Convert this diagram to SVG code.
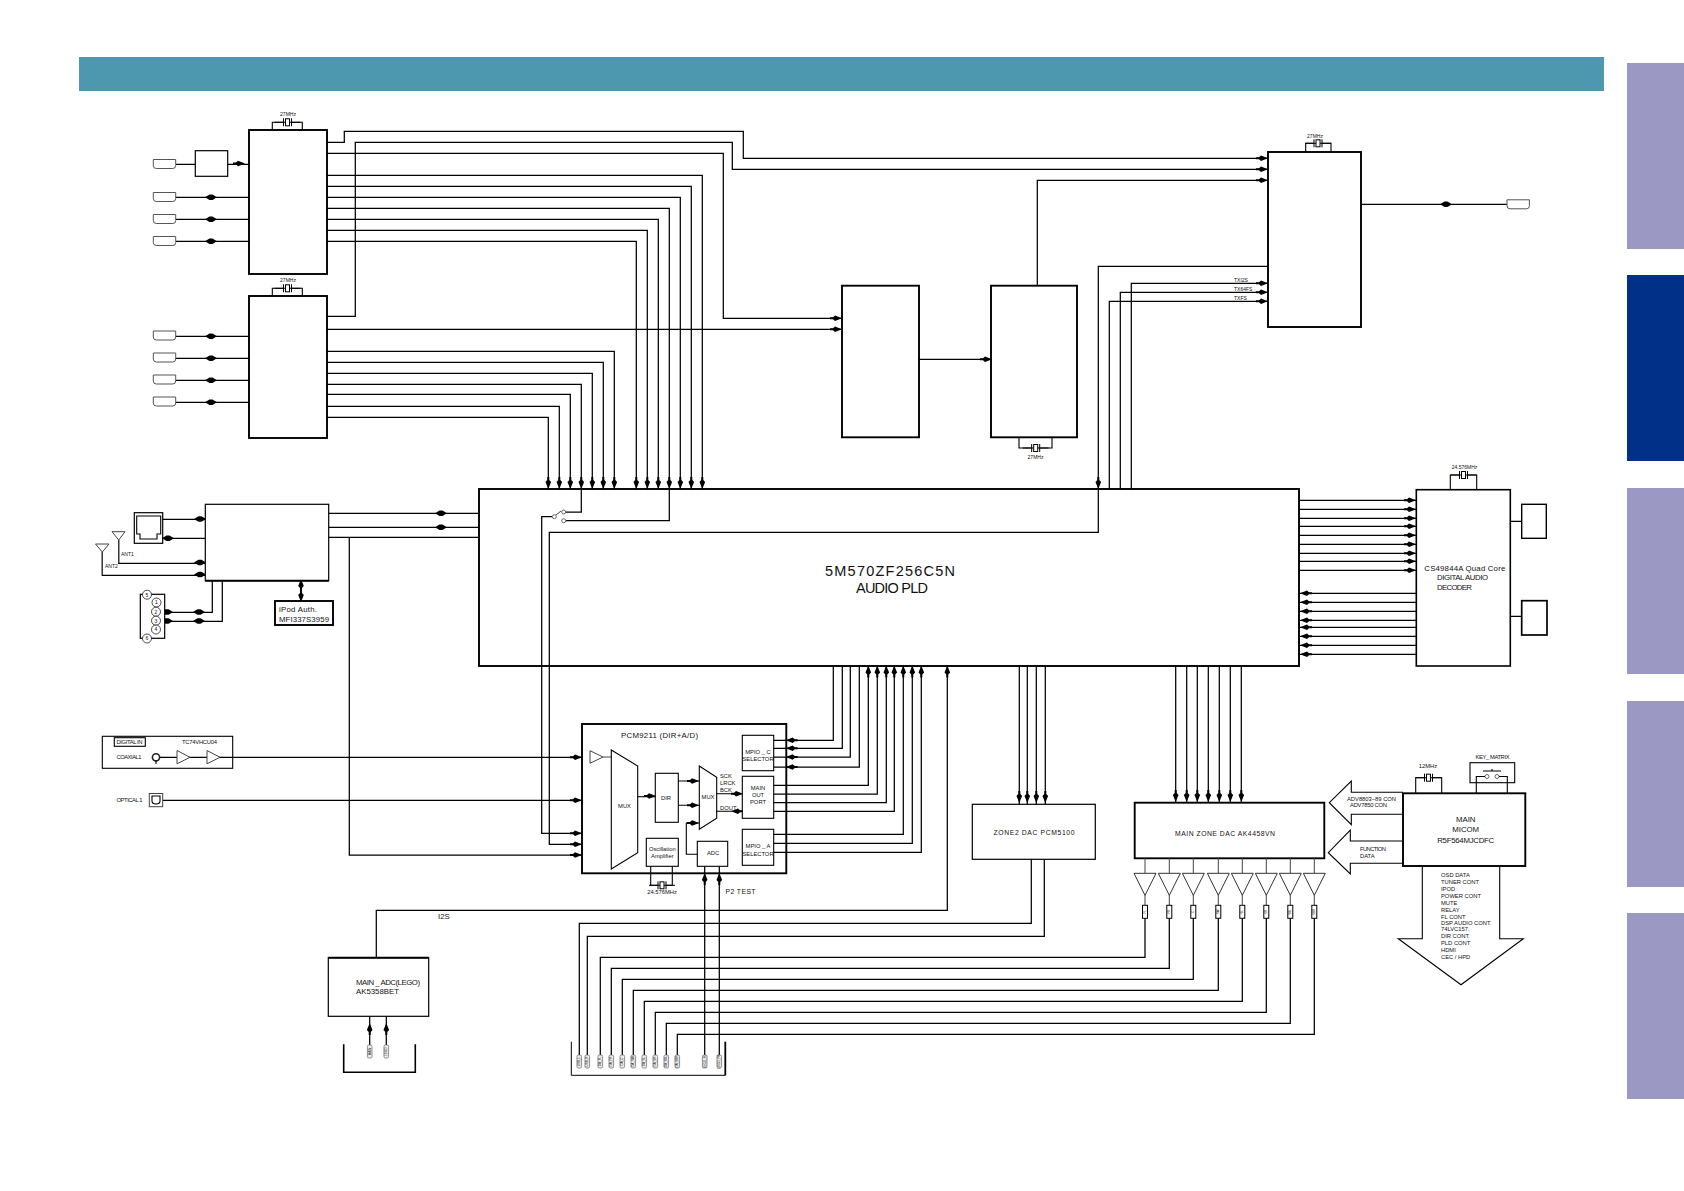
<svg xmlns="http://www.w3.org/2000/svg" width="1684" height="1191" viewBox="0 0 1684 1191">
<style>
text{font-family:"Liberation Sans",Arial,sans-serif;fill:#111}
.n{fill:#fff;stroke:#000;stroke-width:1.2}
.k{fill:#fff;stroke:#000;stroke-width:1.9}
.h{fill:none;stroke:#000;stroke-width:1.9}
.o{fill:none;stroke:#000;stroke-width:1.1}
.g{fill:none;stroke:#444;stroke-width:1}
.c path{fill:none;stroke:#000;stroke-width:1.25}
.s3{font-size:3px}.s4{font-size:5px}.s5{font-size:5.8px}.s6{font-size:6.8px}.s7{font-size:7.8px}.s14{font-size:14.5px}
</style>
<defs>
<polygon id="dm" points="-6,0 -1.5,-2.8 1.5,-2.8 6,0 1.5,2.8 -1.5,2.8" fill="#000"/>
<polygon id="ar" points="6,0 -1,-2.8 -3,-1 -6,-1 -6,1 -3,1 -1,2.8" fill="#000"/>
<polygon id="al" points="-6,0 1,-2.8 3,-1 6,-1 6,1 3,1 1,2.8" fill="#000"/>
<polygon id="ad" points="0,6 -2.8,-1 -1,-3 -1,-6 1,-6 1,-3 2.8,-1" fill="#000"/>
<polygon id="au" points="0,-6 -2.8,1 -1,3 -1,6 1,6 1,3 2.8,1" fill="#000"/>
<path id="conn" d="M0,0H22.4V6Q22.4,9 19.5,9H3Q0,9 0,6Z" fill="#fff" stroke="#555" stroke-width="1"/>
<g id="xtal"><path d="M-13,0H-4M-4,-4V4M4,-4V4M4,0H13" fill="none" stroke="#000"/><rect x="-2" y="-3.5" width="4" height="7" fill="#fff" stroke="#000"/></g>
<polygon id="amp" points="-11,0 11,0 0,22" fill="#fff" stroke="#333" stroke-width="1"/>
<rect id="res" x="-2.5" y="0" width="5" height="13" fill="#fff" stroke="#000" stroke-width="1"/>
<rect id="tag" x="-2.3" y="0" width="4.6" height="13" rx="1.4" fill="#eee" stroke="#666" stroke-width=".7"/>
</defs>
<rect width="1684" height="1191" fill="#fff"/>
<g id="header"><rect x="79" y="57" width="1525" height="34" fill="#4d98ae"/></g>
<g id="tabs">
<rect x="1627" y="63" width="57" height="186" fill="#9b98c4"/>
<rect x="1627" y="275" width="57" height="186" fill="#003087"/>
<rect x="1627" y="488" width="57" height="186" fill="#9b98c4"/>
<rect x="1627" y="701" width="57" height="186" fill="#9b98c4"/>
<rect x="1627" y="913" width="57" height="186" fill="#9b98c4"/>
</g>
<g id="connectors" class="c">
<path d="M327,142.3H344.3V131.3H743.3V158.3H1268"/>
<path d="M327,316.3H355.3V142.3H732.3V169.3H1268"/>
<path d="M327,153.3H723.3V318.3H842"/>
<path d="M327,329.3H842"/>
<path d="M327,175.3H702.3V489M327,186.3H691.3V489M327,197.3H680.3V489M327,208.3H669.3V489M327,219.3H658.3V489M327,230.3H647.3V489M327,241.3H636.3V489"/>
<path d="M327,351.3H614.3V489M327,362.3H603.3V489M327,373.3H592.3V489M327,384.3H581.3V489M327,394.3H570.3V489M327,406.3H559.3V489M327,417.3H548.3V489"/>
<path d="M581.3,489V512H566M669.3,489V520.7H566M552,516.7H541.7V833.3H582M1268,266.3H1098.3V532.3H549.3V844.3H582"/>
<path d="M1268,283.3H1131.3V489M1268,292.3H1120.3V489M1268,301.3H1109.3V489"/>
<path d="M919,359.3H991M1037.3,285.7V180.3H1268M1361,204.3H1507"/>
<path d="M175.7,164.3H195.3M227.7,164.3H249M175.7,197.3H249M175.7,219.3H249M175.7,241.3H249M175.7,336.3H249M175.7,358.3H249M175.7,380.3H249M175.7,402.3H249"/>
<path d="M328.7,513.3H479M328.7,527.3H479M328.7,537.3H479M349.3,537.3V855H582"/>
<path d="M162.7,519.3H205M162.7,538.3H205M118.7,540V563.3H205M102.3,552V575.3H205M160,612.3H212.3V580.7M160,621.3H222.3V580.7M301,580.7V600.7"/>
<path d="M156,757.3H582M162.7,800.3H582"/>
<path d="M833.3,665.7V740.3H773.7M842.3,665.7V748.3H773.7M850.3,665.7V757H773.7M859.3,665.7V767H773.7"/>
<path d="M868.3,665.7V785.3H773.7M877.3,665.7V794H773.7M886.3,665.7V802.7H773.7M894.3,665.7V811.3H773.7M903.3,665.7V834.3H773.7M912.3,665.7V843.3H773.7M921.3,665.7V852.3H773.7"/>
<path d="M947.3,665.7V910.3H376.3V957.7"/>
<path d="M1019.3,665.7V804M1027.3,665.7V804M1036.3,665.7V804M1045.3,665.7V804"/>
<path d="M1175.7,665.7V802M1186.7,665.7V802M1197.3,665.7V802M1208.3,665.7V802M1219.3,665.7V802M1230.3,665.7V802M1241.3,665.7V802"/>
<path d="M1031.3,859.3V923.3H579.3V1055M1044.3,859.3V936.3H587.3V1055"/>
<path d="M1145,918V957.3H600.3V1055M1169.3,918V968.3H611.3V1055M1193.3,918V979.3H622.3V1055M1218.3,918V990.3H633.3V1055M1242.3,918V1001.3H644.3V1055M1266.3,918V1012.3H655.3V1055M1290.3,918V1023.3H666.3V1055M1314.3,918V1034.3H677.3V1055"/>
<path d="M704.7,1055V866.3M719.3,1055V866.3M369.7,1016.3V1046M386.3,1016.3V1046"/>
<path d="M1299,500.3H1416M1299,509.3H1416M1299,518.3H1416M1299,526.3H1416M1299,535.3H1416M1299,544.3H1416M1299,553.3H1416M1299,561.3H1416M1299,570.3H1416"/>
<path d="M1299,593.3H1416M1299,602.3H1416M1299,611.3H1416M1299,620.3H1416M1299,627.3H1416M1299,636.3H1416M1299,645.3H1416M1299,654.3H1416"/>
<path d="M1510,521.3H1521.7M1510,616.3H1521.7"/>
<g id="arrowheads">
<use href="#ad" x="548.3" y="483"/><use href="#ad" x="559.3" y="483"/><use href="#ad" x="570.3" y="483"/><use href="#ad" x="581.3" y="483"/><use href="#ad" x="592.3" y="483"/><use href="#ad" x="603.3" y="483"/><use href="#ad" x="614.3" y="483"/>
<use href="#ad" x="636.3" y="483"/><use href="#ad" x="647.3" y="483"/><use href="#ad" x="658.3" y="483"/><use href="#ad" x="669.3" y="483"/><use href="#ad" x="680.3" y="483"/><use href="#ad" x="691.3" y="483"/><use href="#ad" x="702.3" y="483"/><use href="#ad" x="1098.3" y="483"/>
<use href="#ar" x="836" y="318.3"/><use href="#ar" x="836" y="329.3"/><use href="#ar" x="986" y="359.3"/>
<use href="#ar" x="1262" y="158.3"/><use href="#ar" x="1262" y="169.3"/><use href="#ar" x="1262" y="180.3"/><use href="#ar" x="1262" y="283.3"/><use href="#ar" x="1262" y="292.3"/><use href="#ar" x="1262" y="301.3"/>
<use href="#dm" x="1446" y="204.3"/><use href="#ar" x="239" y="163.5"/>
<use href="#dm" x="211" y="197.3"/><use href="#dm" x="211" y="219.3"/><use href="#dm" x="211" y="241.3"/><use href="#dm" x="211" y="336.3"/><use href="#dm" x="211" y="358.3"/><use href="#dm" x="211" y="380.3"/><use href="#dm" x="211" y="402.3"/>
<use href="#dm" x="441" y="513.3"/><use href="#dm" x="441" y="527.3"/>
<use href="#dm" x="200" y="519"/><use href="#dm" x="168" y="538.3"/><use href="#dm" x="200" y="562.5"/><use href="#dm" x="200" y="574.5"/>
<use href="#dm" x="167" y="612"/><use href="#dm" x="167" y="621"/><use href="#dm" x="199" y="612"/><use href="#dm" x="199" y="621"/>
<use href="#ad" x="301" y="596"/><use href="#au" x="301" y="585"/>
<use href="#ar" x="576" y="757.3"/><use href="#ar" x="576" y="800.3"/><use href="#ar" x="576" y="833.3"/><use href="#ar" x="576" y="844.3"/><use href="#ar" x="576" y="855"/>
<use href="#al" x="791.7" y="740.3"/><use href="#al" x="791.7" y="748.3"/><use href="#al" x="791.7" y="757"/><use href="#al" x="791.7" y="767"/>
<use href="#au" x="868.3" y="671.5"/><use href="#au" x="877.3" y="671.5"/><use href="#au" x="886.3" y="671.5"/><use href="#au" x="894.3" y="671.5"/><use href="#au" x="903.3" y="671.5"/><use href="#au" x="912.3" y="671.5"/><use href="#au" x="921.3" y="671.5"/><use href="#au" x="947.3" y="671.5"/>
<use href="#ad" x="1019.3" y="797"/><use href="#ad" x="1027.3" y="797"/><use href="#ad" x="1036.3" y="797"/><use href="#ad" x="1045.3" y="797"/>
<use href="#ad" x="1175.7" y="796"/><use href="#ad" x="1186.7" y="796"/><use href="#ad" x="1197.3" y="796"/><use href="#ad" x="1208.3" y="796"/><use href="#ad" x="1219.3" y="796"/><use href="#ad" x="1230.3" y="796"/><use href="#ad" x="1241.3" y="796"/>
<use href="#au" x="704.7" y="879"/><use href="#au" x="719.3" y="879"/><use href="#au" x="369.7" y="1029"/><use href="#au" x="386.3" y="1029"/>
<use href="#ar" x="1410" y="500.3"/><use href="#ar" x="1410" y="509.3"/><use href="#ar" x="1410" y="518.3"/><use href="#ar" x="1410" y="526.3"/><use href="#ar" x="1410" y="535.3"/><use href="#ar" x="1410" y="544.3"/><use href="#ar" x="1410" y="553.3"/><use href="#ar" x="1410" y="561.3"/><use href="#ar" x="1410" y="570.3"/>
<use href="#al" x="1306" y="593.3"/><use href="#al" x="1306" y="602.3"/><use href="#al" x="1306" y="611.3"/><use href="#al" x="1306" y="620.3"/><use href="#al" x="1306" y="627.3"/><use href="#al" x="1306" y="636.3"/><use href="#al" x="1306" y="645.3"/><use href="#al" x="1306" y="654.3"/>
</g>
</g>
<g id="hdmi-connectors">
<use href="#conn" x="153.3" y="159.5"/><use href="#conn" x="153.3" y="192.5"/><use href="#conn" x="153.3" y="214.5"/><use href="#conn" x="153.3" y="236.5"/>
<use href="#conn" x="153.3" y="331"/><use href="#conn" x="153.3" y="353"/><use href="#conn" x="153.3" y="375"/><use href="#conn" x="153.3" y="397"/>
<use href="#conn" x="1507" y="199.8"/>
</g>
<g id="hdmi-rx1">
<rect class="k" x="249" y="130" width="78" height="144"/>
<path class="o" d="M272.3,130V122.3H302.3V130"/><use href="#xtal" x="287.5" y="122.3"/>
<text class="s4" x="288" y="116" text-anchor="middle">27MHz</text>
</g>
<g id="hdmi-small"><rect class="n" x="195.3" y="150.7" width="32.4" height="25.6"/></g>
<g id="hdmi-rx2">
<rect class="k" x="249" y="296" width="78" height="142"/>
<path class="o" d="M272.3,296V288.3H302.3V296"/><use href="#xtal" x="287.5" y="288.3"/>
<text class="s4" x="288" y="282" text-anchor="middle">27MHz</text>
</g>
<g id="box-sw"><rect class="k" x="842" y="285.7" width="77" height="151.6"/></g>
<g id="box-tx">
<rect class="k" x="991" y="285.7" width="86" height="151.6"/>
<path class="o" d="M1019,437.3V448H1052V437.3"/><use href="#xtal" x="1035.7" y="448"/>
<text class="s4" x="1035.5" y="459" text-anchor="middle">27MHz</text>
</g>
<g id="box-out">
<rect class="k" x="1268" y="152" width="93" height="175"/>
<path class="o" d="M1305.7,152V143.3H1331V152"/><use href="#xtal" x="1318" y="143.3"/>
<text class="s4" x="1315" y="137.5" text-anchor="middle">27MHz</text>
<text class="s4" x="1234" y="282">TXI2S</text>
<text class="s4" x="1234" y="290.5">TX64FS</text>
<text class="s4" x="1234" y="299.5">TXFS</text>
</g>
<g id="pld">
<rect class="h" x="479" y="489" width="820" height="177"/>
<circle cx="554.3" cy="516.7" r="2" fill="#fff" stroke="#444" stroke-width=".8"/>
<circle cx="563.7" cy="512" r="2" fill="#fff" stroke="#444" stroke-width=".8"/>
<circle cx="563.7" cy="520.7" r="2" fill="#fff" stroke="#444" stroke-width=".8"/>
<path class="g" d="M556,515L561,511"/>
<text class="s14" x="825" y="576" textLength="130" lengthAdjust="spacing">5M570ZF256C5N</text>
<text class="s14" x="856" y="593" textLength="72" lengthAdjust="spacing">AUDIO PLD</text>
</g>
<g id="ipod-if">
<rect class="n" x="205.3" y="504.3" width="123.4" height="76.4"/>
<path d="M205.3,580.7H328.7" stroke="#000" stroke-width="2"/>
</g>
<g id="ethernet-jack">
<rect class="n" x="134.3" y="512.7" width="28.4" height="30.6"/>
<path class="o" d="M136.7,516H160.7V534H157V539H140V534H136.7Z"/>
</g>
<g id="antennas">
<path class="g" d="M112,531.7H125L118.7,540ZM118.7,540V563M95.5,544H109L102.3,552ZM102.3,552V575"/>
<text class="s4" x="121" y="555.5">ANT1</text>
<text class="s4" x="105" y="567.5">ANT2</text>
</g>
<g id="usb-connector">
<rect class="n" x="140.3" y="594.3" width="24.4" height="44"/>
<circle cx="147" cy="594.7" r="4.5" fill="#fff" stroke="#000" stroke-width=".7"/><circle cx="156.5" cy="602.5" r="4.5" fill="#fff" stroke="#000" stroke-width=".7"/><circle cx="156" cy="611.7" r="4.5" fill="#fff" stroke="#000" stroke-width=".7"/><circle cx="156" cy="620.7" r="4.5" fill="#fff" stroke="#000" stroke-width=".7"/><circle cx="156" cy="629.5" r="4.5" fill="#fff" stroke="#000" stroke-width=".7"/><circle cx="147" cy="638.5" r="4.5" fill="#fff" stroke="#000" stroke-width=".7"/>
<text class="s4" x="147" y="596.5" text-anchor="middle">5</text><text class="s4" x="156.5" y="604.3" text-anchor="middle">1</text><text class="s4" x="156" y="613.5" text-anchor="middle">2</text><text class="s4" x="156" y="622.5" text-anchor="middle">3</text><text class="s4" x="156" y="631.3" text-anchor="middle">4</text><text class="s4" x="147" y="640.3" text-anchor="middle">6</text>
</g>
<g id="ipod-auth">
<rect class="k" x="275" y="601" width="58" height="24"/>
<text class="s7" x="279" y="611.5" textLength="38" lengthAdjust="spacing">iPod Auth.</text>
<text class="s7" x="279" y="621.5" textLength="50" lengthAdjust="spacing">MFI337S3959</text>
</g>
<g id="digital-in">
<rect class="o" x="102.3" y="736.3" width="130.4" height="32"/>
<rect class="o" x="114.3" y="737.7" width="31" height="8.6"/>
<text class="s5" x="116.5" y="744" textLength="26" lengthAdjust="spacing">DIGITAL IN</text>
<text class="s5" x="182" y="744" textLength="35" lengthAdjust="spacing">TC74VHCU04</text>
<text class="s5" x="116.5" y="759.3" textLength="25" lengthAdjust="spacing">COAXIAL1</text>
<circle cx="156" cy="757.3" r="3.6" fill="#fff" stroke="#222" stroke-width="1.6"/>
<path class="o" d="M156,761V764"/>
<polygon class="g" points="177,750.5 190,757.3 177,763.8" style="fill:#fff"/>
<polygon class="g" points="207,750.5 220,757.3 207,763.8" style="fill:#fff"/>
</g>
<g id="optical-in">
<text class="s5" x="116.5" y="802" textLength="26" lengthAdjust="spacing">OPTICAL 1</text>
<rect class="g" x="149.3" y="793.5" width="13.4" height="13.2"/>
<path class="o" d="M152,796H160V801Q160,804 156,804Q152,804 152,801Z"/>
</g>
<g id="pcm9211">
<rect class="h" x="582" y="724" width="204.3" height="149.3"/>
<text class="s7" x="621" y="738" textLength="77" lengthAdjust="spacing">PCM9211 (DIR+A/D)</text>
<polygon class="g" points="590,750.7 603,757 590,763.3" style="fill:#fff"/>
<path class="g" d="M603,757H611.3"/>
<path class="o" d="M611.3,750L637.7,766V852.7L611.3,869Z"/>
<text class="s5" x="624.5" y="808" text-anchor="middle">MUX</text>
<path class="o" d="M637.7,796.7H655.3"/><use href="#ar" x="650" y="796"/>
<rect class="o" x="655.3" y="773.3" width="23" height="49"/>
<text class="s5" x="666" y="800" text-anchor="middle">DIR</text>
<path class="o" d="M678.3,781H699.3M678.3,805.3H699.3"/><use href="#ar" x="693" y="781"/><use href="#ar" x="693" y="805.3"/>
<path class="o" d="M699.3,766L716.7,777.3V818.3L699.3,829.3Z"/>
<text class="s5" x="708" y="799" text-anchor="middle">MUX</text>
<path class="o" d="M697.3,854.3H686.3V823H699.3"/><use href="#ar" x="693" y="823"/>
<text class="s5" x="720" y="777.5">SCK</text><text class="s5" x="720" y="784.5">LRCK</text><text class="s5" x="720" y="791.5">BCK</text><text class="s5" x="720" y="810">DOUT</text>
<path class="o" d="M716.7,793.7H742.3M716.7,811.3H742.3"/><use href="#ar" x="737" y="793.7"/><use href="#al" x="737" y="811.3"/>
<rect class="o" x="742.3" y="735.3" width="31.4" height="35.4"/>
<text class="s5" x="758" y="753.5" text-anchor="middle">MPIO _ C</text><text class="s5" x="758" y="760.5" text-anchor="middle">SELECTOR</text>
<rect class="o" x="742.3" y="776.3" width="31.4" height="42"/>
<text class="s5" x="758" y="790" text-anchor="middle">MAIN</text><text class="s5" x="758" y="797" text-anchor="middle">OUT</text><text class="s5" x="758" y="804" text-anchor="middle">PORT</text>
<rect class="o" x="742.3" y="829.3" width="31.4" height="36"/>
<text class="s5" x="758" y="848" text-anchor="middle">MPIO _ A</text><text class="s5" x="758" y="855.5" text-anchor="middle">SELECTOR</text>
<rect class="o" x="646.3" y="838.3" width="32" height="28"/>
<text class="s5" x="662.3" y="850.5" text-anchor="middle">Oscillation</text><text class="s5" x="662.3" y="857.5" text-anchor="middle">Amplifier</text>
<rect class="o" x="697.3" y="841.3" width="30.4" height="25"/>
<text class="s5" x="713" y="855" text-anchor="middle">ADC</text>
<path class="o" d="M650.7,866.3V885.3H672.3V866.3"/><use href="#xtal" x="662" y="885.3"/>
<text class="s5" x="662" y="894" text-anchor="middle">24.576MHz</text>
<text class="s6" x="725.5" y="894" textLength="30" lengthAdjust="spacing">P2 TEST</text>
</g>
<g id="zone2-dac">
<rect class="n" x="972.3" y="804.3" width="123" height="55"/>
<text class="s6" x="1034" y="834.5" text-anchor="middle" textLength="81" lengthAdjust="spacing">ZONE2 DAC PCM5100</text>
</g>
<g id="main-dac">
<rect class="k" x="1134.7" y="802.7" width="189.6" height="55.6"/>
<text class="s6" x="1225" y="836" text-anchor="middle" textLength="100" lengthAdjust="spacing">MAIN ZONE DAC AK4458VN</text>
</g>
<g id="amps">
<path class="g" d="M1145,858V873M1169.3,858V873M1193.3,858V873M1218.3,858V873M1242.3,858V873M1266.3,858V873M1290.3,858V873M1314.3,858V873M1145,895V905M1169.3,895V905M1193.3,895V905M1218.3,895V905M1242.3,895V905M1266.3,895V905M1290.3,895V905M1314.3,895V905"/>
<use href="#amp" x="1145" y="873.3"/><use href="#amp" x="1169.3" y="873.3"/><use href="#amp" x="1193.3" y="873.3"/><use href="#amp" x="1218.3" y="873.3"/><use href="#amp" x="1242.3" y="873.3"/><use href="#amp" x="1266.3" y="873.3"/><use href="#amp" x="1290.3" y="873.3"/><use href="#amp" x="1314.3" y="873.3"/>
<use href="#res" x="1145" y="905.3"/><use href="#res" x="1169.3" y="905.3"/><use href="#res" x="1193.3" y="905.3"/><use href="#res" x="1218.3" y="905.3"/><use href="#res" x="1242.3" y="905.3"/><use href="#res" x="1266.3" y="905.3"/><use href="#res" x="1290.3" y="905.3"/><use href="#res" x="1314.3" y="905.3"/>
<g class="s3">
<text transform="translate(1146,911.8) rotate(-90)" text-anchor="middle">FL</text><text transform="translate(1170.3,911.8) rotate(-90)" text-anchor="middle">FR</text><text transform="translate(1194.3,911.8) rotate(-90)" text-anchor="middle">C</text><text transform="translate(1219.3,911.8) rotate(-90)" text-anchor="middle">SW</text><text transform="translate(1243.3,911.8) rotate(-90)" text-anchor="middle">SL</text><text transform="translate(1267.3,911.8) rotate(-90)" text-anchor="middle">SR</text><text transform="translate(1291.3,911.8) rotate(-90)" text-anchor="middle">SBL</text><text transform="translate(1315.3,911.8) rotate(-90)" text-anchor="middle">SBR</text>
</g>
</g>
<g id="main-micom">
<path class="o" d="M1403,792.3H1351.3V781L1329.3,802.7L1351.3,824.7V814.3H1403"/>
<path class="o" d="M1403,841H1350.3V830L1328.3,852.7L1350.3,874V863.3H1403"/>
<text class="s5" x="1347" y="800.5" textLength="49" lengthAdjust="spacing">ADV8803−89 CON</text>
<text class="s5" x="1350" y="807" textLength="37" lengthAdjust="spacing">ADV7850 CON</text>
<text class="s5" x="1360" y="851" textLength="26" lengthAdjust="spacing">FUNCTION</text>
<text class="s5" x="1360" y="858">DATA</text>
<rect class="k" x="1403" y="793.3" width="122.3" height="72.7"/>
<path class="o" d="M1415.7,793.3V777.7H1441.7V793.3"/><use href="#xtal" x="1428.5" y="777.7"/>
<text class="s5" x="1428" y="768" text-anchor="middle">12MHz</text>
<rect class="o" x="1470" y="762.7" width="44.7" height="20"/>
<path class="o" d="M1476.3,793.3V776.5H1485M1507.3,793.3V776.5H1499M1483,771H1501M1492,769V771"/>
<circle cx="1487" cy="776.5" r="2" fill="#fff" stroke="#444" stroke-width=".8"/><circle cx="1497" cy="776.5" r="2" fill="#fff" stroke="#444" stroke-width=".8"/>
<text class="s5" x="1492.5" y="759" text-anchor="middle" textLength="34" lengthAdjust="spacing">KEY_ MATRIX</text>
<text class="s7" x="1465.7" y="822" text-anchor="middle">MAIN</text>
<text class="s7" x="1465.7" y="832" text-anchor="middle">MICOM</text>
<text class="s7" x="1465.7" y="842.5" text-anchor="middle" textLength="57" lengthAdjust="spacing">R5F564MJCDFC</text>
<path class="o" d="M1422.3,866V938.7H1398.3L1461,984.7L1523.3,938.7H1499.7V866"/>
<g class="s5">
<text x="1441" y="877.3">OSD DATA</text><text x="1441" y="884.3">TUNER CONT</text><text x="1441" y="891.3">IPOD</text><text x="1441" y="898.3">POWER CONT</text><text x="1441" y="905.3">MUTE</text><text x="1441" y="912.3">RELAY</text><text x="1441" y="919">FL CONT</text><text x="1441" y="925">DSP AUDIO CONT.</text><text x="1441" y="931.3">74LVC157.</text><text x="1441" y="938.3">DIR CONT.</text><text x="1441" y="945.3">PLD CONT</text><text x="1441" y="952.3">HDMI</text><text x="1441" y="959.3">CEC / HPD</text>
</g>
</g>
<g id="dsp">
<rect class="n" x="1416.3" y="489.7" width="94" height="176.3" style="stroke-width:1.6"/>
<path class="o" d="M1450.3,489.7V475H1476.7V489.7"/><use href="#xtal" x="1463.5" y="475"/>
<text class="s4" x="1464.5" y="469" text-anchor="middle">24.576MHz</text>
<text class="s7" x="1424.3" y="570.5" textLength="81" lengthAdjust="spacing">CS49844A Quad Core</text>
<text class="s7" x="1437" y="580" textLength="51" lengthAdjust="spacing">DIGITAL AUDIO</text>
<text class="s7" x="1437" y="589.5" textLength="35" lengthAdjust="spacing">DECODER</text>
</g>
<g id="dsp-mem1"><rect class="n" x="1521.7" y="504.3" width="24.6" height="34" style="stroke-width:1.4"/></g>
<g id="dsp-mem2"><rect class="n" x="1521.7" y="600.7" width="25.3" height="34.3" style="stroke-width:1.7"/></g>
<g id="main-adc">
<rect class="n" x="328.3" y="957.7" width="100.4" height="58.6"/>
<path d="M328.3,957.7H428.7" stroke="#000" stroke-width="2"/>
<text class="s7" x="356" y="984.5" textLength="64" lengthAdjust="spacing">MAIN _ ADC(LEGO)</text>
<text class="s7" x="356" y="993.5" textLength="43" lengthAdjust="spacing">AK5358BET</text>
<text class="s7" x="438" y="919">I2S</text>
<path d="M343.7,1044.3V1072.3H415.3V1044.3" fill="none" stroke="#000" stroke-width="1.6"/>
<use href="#tag" x="369.7" y="1045"/><use href="#tag" x="386.3" y="1045"/>
<text class="s3" transform="translate(370.7,1051.5) rotate(-90)" text-anchor="middle">MAIN</text>
<text class="s3" transform="translate(387.3,1051.5) rotate(-90)" text-anchor="middle">LEGO</text>
</g>
<g id="bottom-connector">
<path d="M571.3,1041.7V1075.3H725.3" fill="none" stroke="#000"/>
<path d="M725.3,1041.7V1075.3" fill="none" stroke="#000" stroke-width="1.8"/>
<use href="#tag" x="579.3" y="1055"/><use href="#tag" x="587.3" y="1055"/><use href="#tag" x="600.3" y="1055"/><use href="#tag" x="611.3" y="1055"/><use href="#tag" x="622.3" y="1055"/><use href="#tag" x="633.3" y="1055"/><use href="#tag" x="644.3" y="1055"/><use href="#tag" x="655.3" y="1055"/><use href="#tag" x="666.3" y="1055"/><use href="#tag" x="677.3" y="1055"/><use href="#tag" x="704.7" y="1055"/><use href="#tag" x="719.3" y="1055"/>
<text class="s3" transform="translate(580.3,1061.5) rotate(-90)" text-anchor="middle">USB_L</text><text class="s3" transform="translate(588.3,1061.5) rotate(-90)" text-anchor="middle">USB_R</text><text class="s3" transform="translate(601.3,1061.5) rotate(-90)" text-anchor="middle">DA_FL</text><text class="s3" transform="translate(612.3,1061.5) rotate(-90)" text-anchor="middle">DA_FR</text><text class="s3" transform="translate(623.3,1061.5) rotate(-90)" text-anchor="middle">DA_C</text><text class="s3" transform="translate(634.3,1061.5) rotate(-90)" text-anchor="middle">DA_SW</text><text class="s3" transform="translate(645.3,1061.5) rotate(-90)" text-anchor="middle">DA_SL</text><text class="s3" transform="translate(656.3,1061.5) rotate(-90)" text-anchor="middle">DA_SR</text><text class="s3" transform="translate(667.3,1061.5) rotate(-90)" text-anchor="middle">DA_SBL</text><text class="s3" transform="translate(678.3,1061.5) rotate(-90)" text-anchor="middle">DA_SBR</text><text class="s3" transform="translate(705.7,1061.5) rotate(-90)" text-anchor="middle">LEGO_FL</text><text class="s3" transform="translate(720.3,1061.5) rotate(-90)" text-anchor="middle">LEGO_FR</text>
</g>
</svg>
